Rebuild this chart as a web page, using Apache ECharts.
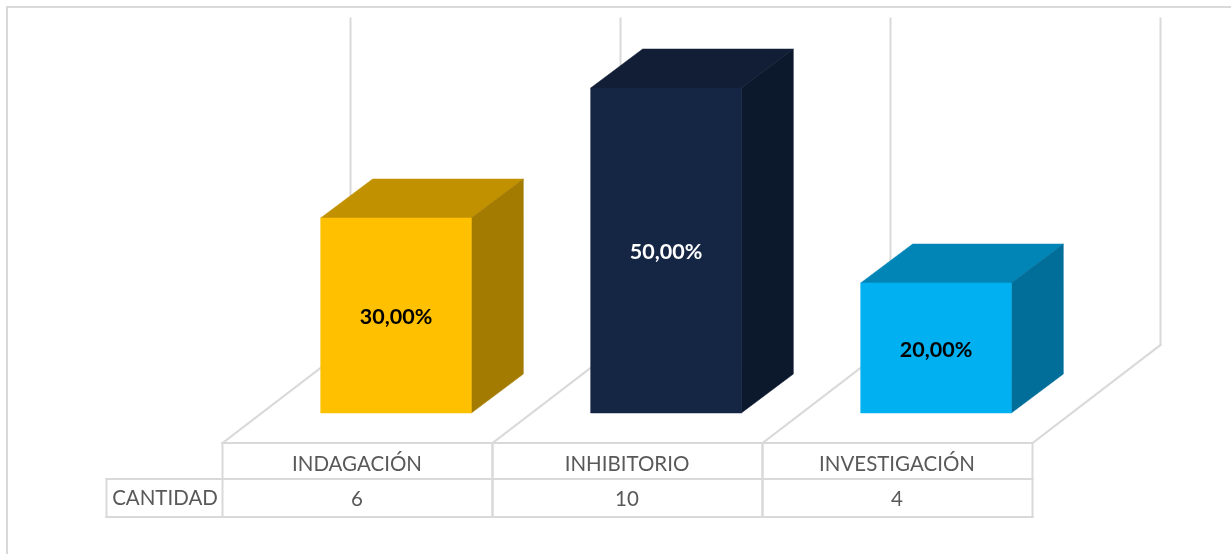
<!DOCTYPE html>
<html lang="es">
  <head>
    <meta charset="UTF-8" />
    <title>Cantidad por estado</title>
    <script src="https://cdn.jsdelivr.net/npm/echarts@6/dist/echarts.min.js"></script>
    <style>
      html, body { margin: 0; padding: 0; background: #fff; }
      #main { width: 1231px; height: 554px; }
    </style>
  </head>
  <body>
    <div id="main"></div>
    <script>
      let categories = ["INDAGACIÓN", "INHIBITORIO", "INVESTIGACIÓN"];
      let cantidad = [6, 10, 4];
      let porcentaje = ["30,00%", "50,00%", "20,00%"];
      let rowName = "CANTIDAD";

      // front, top, side, label
      let palette = [
        ["#FFC000", "#C29100", "#A37B00", "#000000"],
        ["#152544", "#111E36", "#0C182C", "#FFFFFF"],
        ["#00B0F0", "#0085B6", "#006E99", "#000000"],
      ];
      const lineColor = "#D9D9D9";
      const textColor = "#595959";
      const font = "Lato, 'Noto Sans', sans-serif";

      // pseudo 3D offsets, relative to the plane of the bar fronts
      const barDepth = [52, -39];
      const backWall = [89.5, -68];
      const frontEdge = [-38.5, 30];
      const wallExtra = 1.5;
      const rowLabel = 36;
      const rowValue = 36;
      const headerWidth = 116;

      function line(x1, y1, x2, y2) {
        return {
          type: "line",
          shape: { x1, y1, x2, y2 },
          style: { stroke: lineColor, lineWidth: 2, lineCap: "square" },
        };
      }
      function label(text, x, y, size, color, weight) {
        return {
          type: "text",
          x: x,
          y: y,
          style: {
            text: text,
            fill: color,
            font: (weight || "normal") + " " + size + "px " + font,
            align: "center",
            verticalAlign: "middle",
          },
        };
      }
      function poly(points, fill) {
        return {
          type: "polygon",
          shape: { points: points },
          style: { fill: fill, stroke: fill, lineWidth: 0.5 },
        };
      }

      function renderFrame(params, api) {
        let i = api.value(0);
        let w = api.size([1, 0])[0];
        let base = api.coord([i, 0]);
        let top = api.coord([i, 10]);
        let left = base[0] - w / 2;
        let right = base[0] + w / 2;
        let fy = base[1] + frontEdge[1];
        let fl = left + frontEdge[0];
        let fr = right + frontEdge[0];
        let by = base[1] + backWall[1];
        let bl = left + backWall[0];
        let br = right + backWall[0];
        let wallTop = top[1] + backWall[1] - wallExtra;
        let r1 = fy + rowLabel;
        let r2 = r1 + rowValue + 2;
        let kids = [
          line(fl, fy, fr, fy),
          line(fl, fy, bl, by),
          line(bl, by, bl, wallTop),
          line(fl, fy, fl, r2),
          line(fr, fy, fr, r2),
          line(fl, r1, fr, r1),
          line(fl, r2, fr, r2),
          label(categories[i], (fl + fr) / 2 - 0.5, (fy + r1) / 2 + 3, 20.5, textColor),
          label(api.value(1) + "", (fl + fr) / 2 - 0.5, (r1 + r2) / 2 + 1, 20.5, textColor),
        ];
        if (i === categories.length - 1) {
          kids.push(line(fr, fy, br, by), line(br, by, br, wallTop));
        }
        if (i === 0) {
          kids.push(
            line(fl - headerWidth, r1, fl, r1),
            line(fl - headerWidth, r2, fl, r2),
            line(fl - headerWidth, r1, fl - headerWidth, r2),
            label(rowName, fl - headerWidth / 2 + 0.5, (r1 + r2) / 2, 20.5, textColor)
          );
        }
        return { type: "group", children: kids };
      }

      function renderBar(params, api) {
        let i = api.value(0);
        let base = api.coord([i, 0]);
        let top = api.coord([i, api.value(1)]);
        let half = (api.size([1, 0])[0] * 0.558) / 2;
        let x0 = base[0] - half;
        let x1 = base[0] + half;
        let dx = barDepth[0];
        let dy = barDepth[1];
        let c = palette[i];
        return {
          type: "group",
          children: [
            poly([[x0, top[1]], [x1, top[1]], [x1 + dx, top[1] + dy], [x0 + dx, top[1] + dy]], c[1]),
            poly([[x1, top[1]], [x1 + dx, top[1] + dy], [x1 + dx, base[1] + dy], [x1, base[1]]], c[2]),
            poly([[x0, top[1]], [x1, top[1]], [x1, base[1]], [x0, base[1]]], c[0]),
            label(porcentaje[i], base[0], (top[1] + base[1]) / 2 + 2, 21.5, c[3], "bold"),
          ],
        };
      }

      let rows = categories.map((name, i) => [i, cantidad[i]]);
      let myChart = echarts.init(document.getElementById("main"), null, { renderer: "canvas" });
      myChart.setOption({
        animation: false,
        backgroundColor: "#FFFFFF",
        grid: { left: 261, width: 810, top: 88, height: 325 },
        xAxis: {
          type: "category",
          data: categories,
          axisLine: { show: false },
          axisTick: { show: false },
          axisLabel: { show: false },
        },
        yAxis: { type: "value", min: 0, max: 10, show: false },
        graphic: [
          {
            type: "polyline",
            shape: { points: [[7, 554], [7, 7], [1231, 7]] },
            style: { stroke: lineColor, lineWidth: 2, fill: null },
            silent: true,
          },
        ],
        series: [
          { type: "custom", z: 1, clip: false, data: rows, renderItem: renderFrame },
          { type: "custom", z: 2, clip: false, data: rows, renderItem: renderBar },
        ],
      });
    </script>
  </body>
</html>
